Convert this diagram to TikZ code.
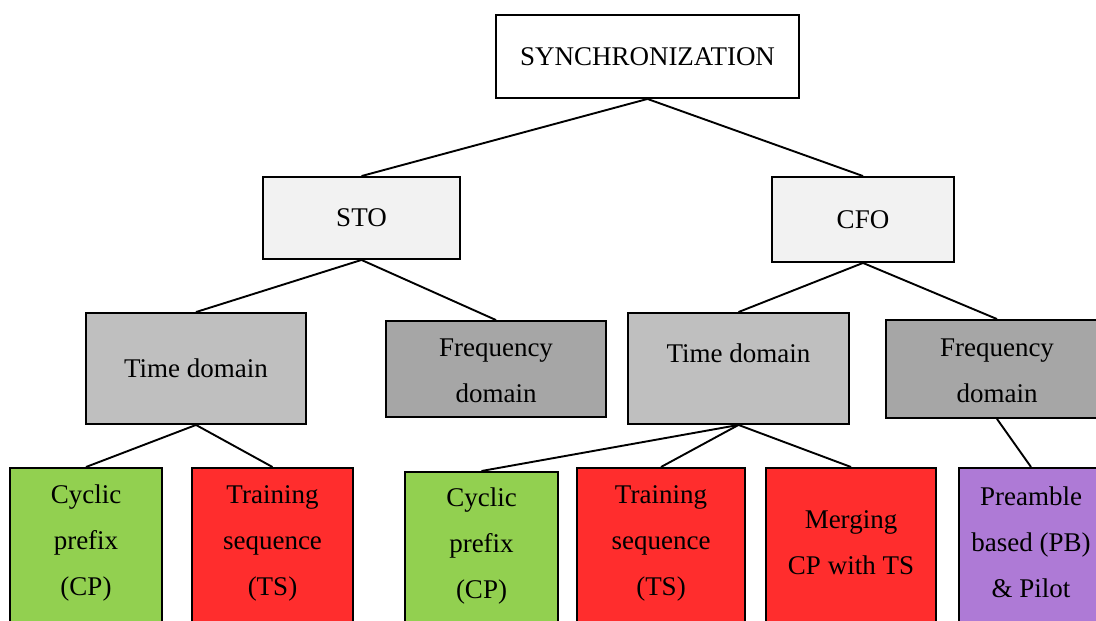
\documentclass[tikz,border=0pt]{standalone}
\usepackage{fontspec}
\setmainfont{Liberation Serif}
\definecolor{cpgreen}{HTML}{92D050}
\definecolor{tsred}{HTML}{FF2D2D}
\definecolor{pbpurple}{HTML}{AE7AD6}
\definecolor{lvlone}{HTML}{F2F2F2}
\definecolor{tdgray}{HTML}{BFBFBF}
\definecolor{fdgray}{HTML}{A6A6A6}
\begin{document}
\begin{tikzpicture}[x=1pt, y=-1pt, line width=1.9pt,
    every node/.style={inner sep=0pt, align=center,
                  font=\fontsize{27}{46}\selectfont},
    box/.style={draw, rectangle, minimum width=#1},
    leaf/.style={draw, rectangle, anchor=north, minimum width=#1,
                  minimum height=190}]
              \useasboundingbox (0,0) rectangle (1096,621);
              \clip (0,0) rectangle (1096,621);
              % top levels
              \node[box=303, minimum height=83] (sync) at (647.5,56.5) {SYNCHRONIZATION};
              \node[box=197, minimum height=82, fill=lvlone] (sto) at (361.5,218) {STO};
              \node[box=182, minimum height=85, fill=lvlone] (cfo) at (863,219.5) {CFO};
              \node[box=220, minimum height=111, fill=tdgray] (tds) at (196,368.5) {Time domain};
              \node[box=220, minimum height=96, fill=fdgray] (fds) at (496,369) {};
              \node at (496,371) {Frequency\\domain};
              \node[box=221, minimum height=111, fill=tdgray] (tdc) at (738.5,368.5) {};
              \node at (738.5,353) {Time domain};
              \node[box=222, minimum height=98, fill=fdgray] (fdc) at (997,369) {};
              \node at (997,371) {Frequency\\domain};
              % leaves
              \node[leaf=152, fill=cpgreen] (cps) at (86,467) {};
              \node at (86,543) {Cyclic\\prefix\\(CP)};
              \node[leaf=161, fill=tsred] (tss) at (272.5,467) {};
              \node at (272.5,543) {Training\\sequence\\(TS)};
              \node[leaf=153, fill=cpgreen] (cpc) at (481.5,471) {};
              \node at (481.5,546) {Cyclic\\prefix\\(CP)};
              \node[leaf=168, fill=tsred] (tsc) at (661,467) {};
              \node at (661,543) {Training\\sequence\\(TS)};
              \node[leaf=170, fill=tsred] (mrg) at (851,467) {};
              \node at (851,543) {Merging\\CP with TS};
              \node[leaf=144, fill=pbpurple] (pbp) at (1031,467) {};
              \node at (1031,542) {Preamble\\based (PB)\\\& Pilot};
              \draw (sync.south) -- (sto.north);
              \draw (sync.south) -- (cfo.north);
              \draw (sto.south) -- (tds.north);
              \draw (sto.south) -- (fds.north);
              \draw (cfo.south) -- (tdc.north);
              \draw (cfo.south) -- (fdc.north);
              \draw (tds.south) -- (cps.north);
              \draw (tds.south) -- (tss.north);
              \draw (tdc.south) -- (cpc.north);
              \draw (tdc.south) -- (tsc.north);
              \draw (tdc.south) -- (mrg.north);
              \draw (fdc.south) -- (pbp.north);
          \end{tikzpicture}
\end{document}
